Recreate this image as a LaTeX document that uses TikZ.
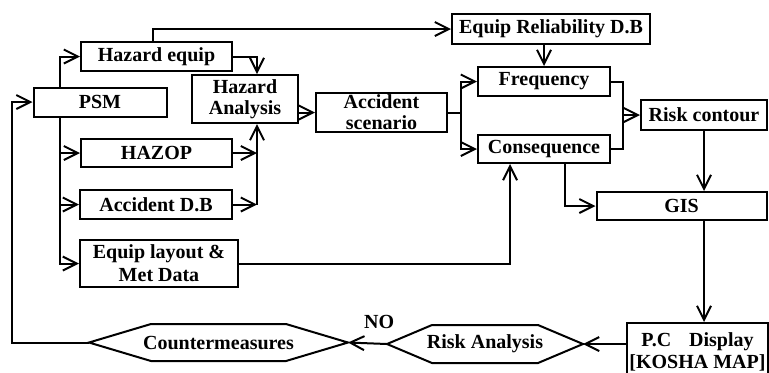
\documentclass[tikz,border=0pt]{standalone}
\usepackage{fontspec}
\setmainfont{Liberation Serif}
\usetikzlibrary{arrows.meta, positioning}

\begin{document}
\begin{tikzpicture}[x=0.5pt, y=-0.5pt, line width=1pt,
    >={Straight Barb[length=7pt,width=7pt]},
    box/.style={draw, rectangle, inner sep=1pt, align=center,
      font=\fontsize{10}{10.5}\selectfont\bfseries},
    hexlabel/.style={rectangle, inner sep=1pt,
      font=\fontsize{10}{10.5}\selectfont\bfseries}]
    \useasboundingbox (0,0) rectangle (769,372);

    % left column
    \node[box, minimum width=75.5pt, minimum height=14.5pt] (HE) at (156.5, 56.5) {Hazard equip};
    \node[box, minimum width=66.5pt, minimum height=14.5pt] (PSM) at (100, 102) {PSM};
    \node[box, minimum width=75.5pt, minimum height=14pt] (HZ) at (156.5, 153) {HAZOP};
    \node[box, minimum width=76pt, minimum height=14.5pt] (AD) at (156, 204.5) {Accident D.B};
    \node[box, minimum width=79pt, minimum height=23.5pt, font=\fontsize{10}{11.5}\selectfont\bfseries] (EL) at (159, 263.5) {Equip layout \&\\Met Data};

    % middle
    \node[box, minimum width=53pt, minimum height=24pt] (HA) at (245, 99) {Hazard\\Analysis};
    \node[box, minimum width=65.5pt, minimum height=19.5pt] (AS) at (381.5, 112.5) {Accident\\scenario};
    \node[box, minimum width=99pt, minimum height=15pt] (ER) at (551, 29) {Equip Reliability D.B};
    \node[box, minimum width=66pt, minimum height=14.5pt] (FQ) at (544, 81.5) {Frequency};
    \node[box, minimum width=66pt, minimum height=14pt] (CQ) at (544, 149) {Consequence};

    % right column
    \node[box, minimum width=63pt, minimum height=15pt] (RC) at (704, 115) {Risk contour};
    \node[box, minimum width=85pt, minimum height=14pt] (GIS) at (681.5, 206) {GIS};
    \node[box, minimum width=69.5pt, minimum height=34pt, font=\fontsize{10}{11}\selectfont\bfseries] (PC) at (697.5, 357)
      {\raisebox{12pt}{\begin{tabular}{@{}c@{}}P.C\hspace{9pt}Display\\{}[KOSHA MAP]\end{tabular}}};

    % bottom row
    \node[hexlabel, minimum width=97pt, minimum height=18pt] (RA) at (485, 344) {Risk Analysis};
    \node[hexlabel, minimum width=128.5pt, minimum height=17.5pt] (CM) at (218.5, 342.5) {Countermeasures};
    \draw (RA.west) -- ([xshift=22.5pt]RA.north west) -- ([xshift=-22.5pt]RA.north east) -- (RA.east)
      -- ([xshift=-22.5pt]RA.south east) -- ([xshift=22.5pt]RA.south west) -- cycle;
    \draw (CM.west) -- ([xshift=31pt]CM.north west) -- ([xshift=-31pt]CM.north east) -- (CM.east)
      -- ([xshift=-31pt]CM.south east) -- ([xshift=31pt]CM.south west) -- cycle;

    % PSM feeds
    \draw[->] (CM.west) -- ++(-77,0) |- (PSM.west);
    \draw[->] ([xshift=13.5pt]PSM.north west) |- (HE.west);
    \draw[->] ([xshift=13.5pt]PSM.south west) |- (HZ.west);
    \draw[->] ([xshift=13.5pt]PSM.south west) |- (AD.west);
    \draw[->] ([xshift=13.5pt]PSM.south west) |- (EL.west);

    % into hazard analysis
    \coordinate (hb) at ([xshift=6pt]HA.south);
    \draw[->] (HE.east) -| ([xshift=6pt]HA.north);
    \draw[->] (HZ.east) -- (HZ.east -| hb);
    \draw[->] (AD.east) -- (AD.east -| hb);
    \draw[->] (AD.east -| hb) -- (hb);
    \draw[->] ([xshift=-2pt]HE.north) |- (ER.west);
    \draw[->] (HA.east |- AS.west) -- (AS.west);

    % scenario to frequency / consequence
    \draw[->] (AS.east) -- ++(13,0) |- (FQ.west);
    \draw[->] (AS.east) -- ++(13,0) |- (CQ.west);
    \draw[->] (FQ.north |- ER.south) -- (FQ.north);
    \coordinate (mg) at (623, 115);
    \draw (FQ.east) -| (mg) |- (CQ.east);
    \draw[->] (mg) -- (RC.west);
    \draw[->] (EL.east) -| ([xshift=-17pt]CQ.south);
    \draw[->] ([xshift=10.5pt]CQ.south) |- (GIS.west);

    % right side down and back
    \draw[->] (RC.south) -- (RC.south |- GIS.north);
    \draw[->] (RC.south |- GIS.south) -- (RC.south |- PC.north);
    \draw[->] (PC.west |- RA.east) -- (RA.east);
    \draw[->] (RA.west) -- node[pos=0.2, above=3.5pt, font=\fontsize{10}{10.5}\selectfont\bfseries] (NO) {NO} (CM.east);
\end{tikzpicture}
\end{document}
